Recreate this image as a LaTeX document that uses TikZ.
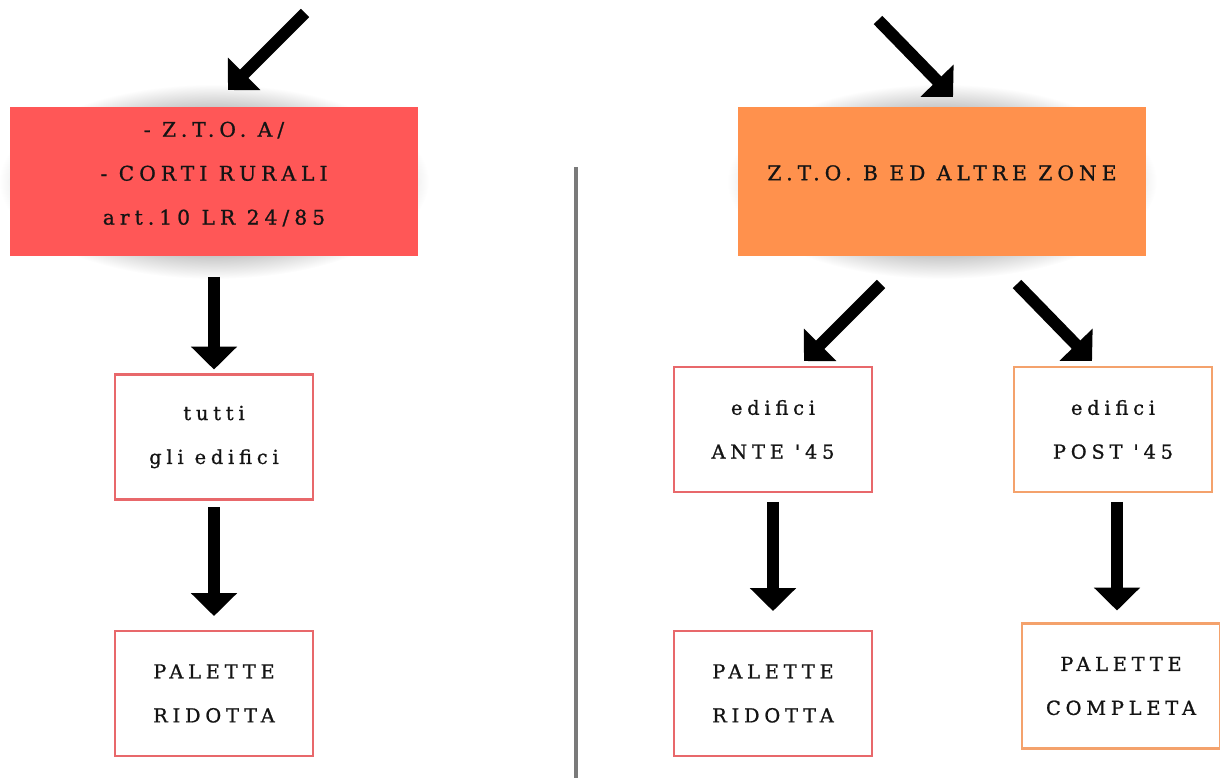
\documentclass[tikz,border=0pt]{standalone}
\usepackage{fontspec}
\newfontfamily\zonefont{DejaVu Serif}[LetterSpace=25, FakeBold=1]
\usetikzlibrary{positioning,arrows.meta}
\definecolor{zonaA}{HTML}{FF5757}
\definecolor{zonaB}{HTML}{FF914D}
\definecolor{bordoA}{HTML}{E8686B}
\definecolor{bordoB}{HTML}{F4A26C}
\definecolor{divisore}{HTML}{7A7A7A}

\begin{document}
\begin{tikzpicture}[x=0.02cm, y=-0.02cm,
every node/.style = {
        font=\zonefont\fontsize{11.5}{25}\selectfont, align=center,
        text=black!92},
     zona/.style = {
        rectangle, minimum width=8.16cm, minimum height=2.98cm,
        inner sep=0pt, outer sep=0pt},
  casella/.style = {
        draw, rectangle, line width=1.3pt, minimum width=3.96cm,
        minimum height=2.5cm, inner sep=0pt, outer sep=0pt,
        font=\zonefont\fontsize{11}{25}\selectfont},
    ombra/.style = {inner color=black!90, outer color=white},
  freccia/.style = {line width=6.8pt, -{Triangle[width=25.5pt,length=13pt]}}
                    ]
\useasboundingbox (0,0) rectangle (1220,778);
% the soft shadows behind the zones
\shade[ombra] (214,181.5) ellipse [x radius=4.3cm, y radius=1.95cm];
\shade[ombra] (942,181.5) ellipse [x radius=4.3cm, y radius=1.95cm];
% the zones at the top
\node (zonaA) [zona, fill=zonaA, text depth=9.5pt] at (214,181.5)
                {- Z.T.O. A/\\- CORTI RURALI\\art.10 LR 24/85};
\node (zonaB) [zona, fill=zonaB, text depth=10pt] at (942,181.5)
                {Z.T.O. B ED ALTRE ZONE};
% the buildings
\node (tutti) [casella, draw=bordoA] at (214,437)   {tutti\\gli edifici};
\node (ante)  [casella, draw=bordoA] at (773,429.5) {edifici\\ANTE '45};
\node (post)  [casella, draw=bordoB] at (1113,429.5) {edifici\\POST '45};
% the palettes
\node (palA)  [casella, draw=bordoA] at (214,693.5) {PALETTE\\RIDOTTA};
\node (palB)  [casella, draw=bordoA] at (773,693.5) {PALETTE\\RIDOTTA};
\node (palC)  [casella, draw=bordoB] at (1121,686)  {PALETTE\\COMPLETA};
% the arrows coming in from above
\coordinate (inA)    at (305,13);
\coordinate (puntaA) at (228,90);
\coordinate (inB)    at (878,20);
\coordinate (puntaB) at (953,97);
\draw[freccia] (inA) -- (puntaA);
\draw[freccia] (inB) -- (puntaB);
% the arrows on the left
\draw[freccia, shorten <=0.42cm, shorten >=0.1cm] (zonaA) -- (tutti);
\draw[freccia, shorten <=0.16cm, shorten >=0.3cm] (tutti) -- (palA);
% the arrows on the right
\draw[freccia] ([shift={(-61,28)}] zonaB.south)
                -- ([shift={(31,-6)}] ante.north);
\draw[freccia] ([shift={(75,28)}] zonaB.south)
                -- ([shift={(-21,-6)}] post.north);
\draw[freccia, shorten <=0.2cm, shorten >=0.4cm] (ante) -- (palB);
\draw[freccia, shorten <=0.2cm, shorten >=0.26cm]
                ([xshift=0.08cm] post.south) coordinate (p) -- (p |- palC.north);
% the divider
\draw[divisore, line width=2.3pt] (576,167) -- (576,778);
\end{tikzpicture}
\end{document}
